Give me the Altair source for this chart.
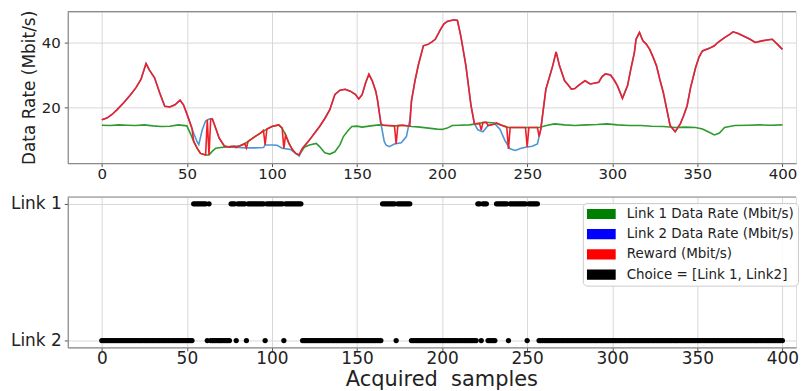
import altair as alt
import pandas as pd

# ---------------- data ----------------
# Link 1 data rate (green), (sample, Mbit/s)
link1_pts = [
    (0, 14.5), (5, 14.4), (10, 14.6), (15, 14.5), (20, 14.4), (25, 14.6), (30, 14.3), (35, 14.1),
    (40, 14.2), (45, 14.6), (50, 14.3), (52, 12.0), (54, 9.5), (56, 7.4), (58, 5.8), (61, 5.3),
    (63, 5.3), (65, 6.5), (67, 7.4), (70, 7.6), (75, 7.9), (81, 8.1), (84, 8.8), (87, 9.9),
    (90, 11.0), (93, 12.0), (97, 13.3), (100, 14.1), (104, 14.6), (106, 13.6), (108, 11.5),
    (110, 8.9), (112, 7.0), (114, 5.8), (116, 5.3), (119, 7.7), (122, 8.4), (126, 8.9), (128, 7.9),
    (131, 6.0), (134, 5.6), (137, 6.3), (140, 8.5), (142, 11.0), (145, 13.0), (147, 14.1),
    (150, 14.2), (153, 13.9), (158, 14.3), (163, 14.6), (168, 14.4), (173, 14.3), (177, 14.5),
    (182, 14.1), (187, 13.9), (192, 13.6), (197, 13.3), (200, 13.2), (203, 13.6), (206, 14.4),
    (210, 14.5), (216, 14.6), (220, 14.9), (225, 15.4), (231, 15.2), (235, 14.5), (239, 13.8),
    (245, 13.8), (250, 13.8), (257, 13.8), (262, 14.5), (266, 14.9), (272, 14.6), (278, 14.4),
    (285, 14.6), (291, 14.7), (297, 14.9), (303, 14.6), (310, 14.4), (317, 14.4), (323, 14.2),
    (330, 14.1), (337, 13.8), (343, 13.9), (349, 13.8), (353, 13.3), (357, 12.3), (360, 11.5),
    (363, 12.1), (366, 13.8), (372, 14.4), (380, 14.5), (387, 14.6), (393, 14.5), (400, 14.6),
]

# Link 2 data rate (blue)
link2_pts = [
    (0, 16.2), (3, 16.7), (6, 17.8), (9, 19.3), (13, 21.5), (17, 24.0), (20, 26.0), (23, 28.6),
    (26, 33.5), (28, 31.5), (31, 29.1), (34, 24.5), (37, 20.3), (40, 20.1), (43, 20.8), (46, 22.2),
    (48, 20.8), (50, 18.0), (52, 15.0), (54, 12.0), (56, 9.4), (57, 8.5), (59, 13.0), (61, 15.8),
    (63, 16.4), (65, 16.4), (67, 13.5), (69, 10.5), (72, 8.1), (76, 7.7), (80, 7.6), (85, 7.5),
    (90, 7.5), (95, 7.6), (96, 8.4), (100, 8.4), (103, 8.3), (106, 7.4), (111, 7.0), (113, 6.2),
    (116, 5.0), (118, 7.4), (122, 9.9), (125, 12.0), (128, 14.1), (131, 16.5), (134, 19.3),
    (137, 24.0), (140, 25.3), (143, 25.6), (146, 25.0), (149, 24.0), (151, 22.6), (153, 23.9),
    (155, 27.5), (157, 30.2), (159, 28.1), (161, 25.0), (162, 22.4), (164, 15.1), (166, 9.5),
    (167, 8.4), (169, 7.9), (172, 8.7), (176, 9.1), (179, 11.0), (181, 16.0), (182, 22.0),
    (184, 28.0), (186, 33.0), (189, 39.0), (192, 39.5), (194, 40.2), (196, 41.0), (199, 44.0),
    (201, 45.7), (203, 46.5), (207, 47.0), (209, 46.8), (211, 42.0), (214, 32.8), (217, 20.5),
    (219, 14.9), (221, 13.1), (224, 12.5), (227, 14.4), (231, 14.9), (234, 13.3), (237, 9.7),
    (240, 7.2), (243, 6.7), (246, 7.3), (249, 7.7), (253, 8.0), (256, 8.7), (258, 13.3),
    (261, 25.6), (265, 32.8), (267, 37.1), (269, 32.8), (272, 28.2), (274, 27.0), (276, 25.6),
    (278, 25.8), (280, 26.7), (282, 27.5), (284, 28.2), (287, 27.2), (290, 27.5), (292, 27.7),
    (294, 29.5), (296, 30.3), (299, 30.0), (301, 28.5), (303, 26.7), (306, 22.8), (309, 26.7),
    (311, 32.0), (313, 36.9), (314, 41.0), (316, 43.1), (318, 40.5), (320, 39.5), (322, 37.9),
    (324, 35.5), (326, 32.8), (328, 28.5), (330, 24.6), (332, 19.5), (334, 14.4), (337, 12.5),
    (340, 14.9), (342, 17.5), (344, 20.5), (346, 26.0), (349, 32.3), (351, 35.5), (353, 37.4),
    (357, 38.2), (360, 39.0), (362, 40.0), (366, 41.5), (369, 42.5), (371, 43.3), (374, 42.8),
    (378, 41.8), (381, 41.0), (384, 40.0), (388, 40.5), (391, 40.8), (394, 41.0), (397, 39.5),
    (400, 37.9),
]

# Reward (red)
reward_pts = [
    (0, 16.2), (3, 16.7), (6, 17.8), (9, 19.3), (13, 21.5), (17, 24.0), (20, 26.0), (23, 28.6),
    (26, 33.5), (28, 31.5), (31, 29.1), (34, 24.5), (37, 20.3), (40, 20.1), (43, 20.8), (46, 22.2),
    (48, 20.8), (50, 18.0), (52, 15.0), (53, 13.5), (54, 9.5), (56, 7.4), (58, 5.8), (61, 5.3),
    (62, 16.2), (63, 5.3), (64, 16.4), (65, 16.4), (67, 13.5), (69, 10.5), (72, 8.1), (75, 7.7),
    (76, 7.9), (78, 8.0), (79, 7.6), (80, 8.0), (81, 8.1), (84, 8.8), (85, 7.5), (86, 9.5),
    (90, 11.0), (93, 12.0), (95, 12.9), (96, 8.4), (97, 13.3), (100, 14.1), (104, 14.6),
    (106, 13.6), (107, 7.3), (108, 11.5), (110, 8.9), (112, 7.0), (114, 5.8), (116, 5.3),
    (117, 6.5), (118, 7.4), (122, 9.9), (125, 12.0), (128, 14.1), (131, 16.5), (134, 19.3),
    (137, 24.0), (140, 25.3), (143, 25.6), (146, 25.0), (149, 24.0), (151, 22.6), (153, 23.9),
    (155, 27.5), (157, 30.2), (159, 28.1), (161, 25.0), (162, 22.4), (164, 15.1), (165, 14.5),
    (168, 14.4), (172, 14.3), (173, 8.7), (174, 14.4), (177, 14.5), (181, 14.2), (182, 22.0),
    (184, 28.0), (186, 33.0), (189, 39.0), (192, 39.5), (194, 40.2), (196, 41.0), (199, 44.0),
    (201, 45.7), (203, 46.5), (207, 47.0), (209, 46.8), (211, 42.0), (214, 32.8), (217, 20.5),
    (219, 14.9), (221, 15.0), (222, 15.0), (223, 13.0), (224, 15.3), (226, 15.4), (227, 14.4),
    (231, 14.9), (232, 15.2), (235, 14.5), (238, 13.9), (239, 7.2), (240, 13.8), (245, 13.8),
    (249, 13.8), (250, 7.8), (251, 13.8), (256, 13.8), (257, 11.0), (258, 13.3), (261, 25.6),
    (265, 32.8), (267, 37.1), (269, 32.8), (272, 28.2), (274, 27.0), (276, 25.6), (278, 25.8),
    (280, 26.7), (282, 27.5), (284, 28.2), (287, 27.2), (290, 27.5), (292, 27.7), (294, 29.5),
    (296, 30.3), (299, 30.0), (301, 28.5), (303, 26.7), (306, 22.8), (309, 26.7), (311, 32.0),
    (313, 36.9), (314, 41.0), (316, 43.1), (318, 40.5), (320, 39.5), (322, 37.9), (324, 35.5),
    (326, 32.8), (328, 28.5), (330, 24.6), (332, 19.5), (334, 14.4), (337, 12.5), (340, 14.9),
    (342, 17.5), (344, 20.5), (346, 26.0), (349, 32.3), (351, 35.5), (353, 37.4), (357, 38.2),
    (360, 39.0), (362, 40.0), (366, 41.5), (369, 42.5), (371, 43.3), (374, 42.8), (378, 41.8),
    (381, 41.0), (384, 40.0), (388, 40.5), (391, 40.8), (394, 41.0), (397, 39.5), (400, 37.9),
]

# Samples where Link 1 was chosen (inclusive runs); every other sample chose Link 2
link1_runs = [(54, 61), (63, 63), (76, 78), (80, 84), (86, 95), (97, 106), (108, 117),
              (165, 172), (174, 181), (221, 222), (224, 226), (232, 238), (240, 249), (251, 256)]
first_sample, last_sample = 0, 400

series_names = ["Link 1 Data Rate (Mbit/s)", "Link 2 Data Rate (Mbit/s)",
                "Reward (Mbit/s)", "Choice = [Link 1, Link2]"]
line_colors = ["#2f9a2f", "#4f95d3", "#f01e28"]
legend_colors = ["#008000", "#0000ff", "#ff0000", "#000000"]
choice_labels = ["Link 2", "Link 1"]
x_ticks = [0, 50, 100, 150, 200, 250, 300, 350, 400]
y_ticks = [20, 40]

# ---------------- tables ----------------
def to_df(pts):
    return pd.DataFrame({"x": [p[0] for p in pts], "y": [p[1] for p in pts]})

choice_rows = []
for s in range(first_sample, last_sample + 1):
    is_l1 = any(a <= s <= b for a, b in link1_runs)
    choice_rows.append({"x": s, "link": 1 if is_l1 else 0, "series": series_names[3]})
choice_df = pd.DataFrame(choice_rows)

# ---------------- styling ----------------
FONT = "DejaVu Sans"
W, H1, H2 = 731, 152, 151
FRAME = "#8a8a8a"
GRID = "#d8d8d8"
TXT = "#222222"
TICK = "#555555"
xscale = alt.Scale(domain=[-20, 408], nice=False, zero=False)

top_x_axis = alt.Axis(values=x_ticks, title=None, labelFontSize=15, labelFont=FONT,
                      labelColor=TXT, tickSize=3.5, tickColor=TICK, labelPadding=0,
                      grid=True, gridColor=GRID, domainColor=FRAME, domainWidth=1.2)
top_y_axis = alt.Axis(values=y_ticks, title="Data Rate (Mbit/s)", titleFontSize=17,
                      titleFont=FONT, titleFontWeight="normal", titleColor=TXT, titlePadding=3,
                      labelFontSize=15, labelFont=FONT, labelColor=TXT, tickSize=3.5,
                      tickColor=TICK, labelPadding=4, grid=True, gridColor=GRID,
                      domainColor=FRAME, domainWidth=1.2)
yscale_top = alt.Scale(domain=[2.8, 49.5], nice=False, zero=False)

layers = []
for pts, col in zip([link1_pts, link2_pts, reward_pts], line_colors):
    layers.append(
        alt.Chart(to_df(pts)).mark_line(color=col, strokeWidth=1.6, clip=True).encode(
            x=alt.X("x:Q", scale=xscale, axis=top_x_axis),
            y=alt.Y("y:Q", scale=yscale_top, axis=top_y_axis),
        )
    )
top_border = alt.Chart(pd.DataFrame({"k": [0]})).mark_rule(color=FRAME, strokeWidth=1.2).encode(
    x=alt.value(0), x2=alt.value(W), y=alt.value(0))
top = alt.layer(*layers, top_border).properties(width=W, height=H1)

bottom_x_axis = alt.Axis(values=x_ticks, title="Acquired\u00a0 samples", titleFontSize=21,
                         titleFont=FONT, titleFontWeight="normal", titleColor=TXT,
                         titlePadding=2, titleX=375, labelFontSize=17, labelFont=FONT,
                         labelColor=TXT, tickSize=3.5, tickColor=TICK, labelPadding=0,
                         grid=True, gridColor=GRID, domainColor=FRAME, domainWidth=1.2)
bottom_y_axis = alt.Axis(values=[0, 1], title=None,
                         labelExpr=f"datum.value == 1 ? '{choice_labels[1]}' : '{choice_labels[0]}'",
                         labelFontSize=17, labelFont=FONT, labelColor=TXT, tickSize=3.5,
                         tickColor=TICK, labelPadding=3, grid=True, gridColor=GRID,
                         domainColor=FRAME, domainWidth=1.2)

points = alt.Chart(choice_df).mark_circle(size=28, opacity=1).encode(
    x=alt.X("x:Q", scale=xscale, axis=bottom_x_axis),
    y=alt.Y("link:Q", scale=alt.Scale(domain=[-0.05, 1.05], nice=False, zero=False),
            axis=bottom_y_axis),
    color=alt.Color("series:N", scale=alt.Scale(domain=series_names, range=legend_colors),
                    legend=alt.Legend(title=None, orient="none", legendX=517, legendY=6,
                                      symbolType="M-1,-0.35H1V0.35H-1Z", symbolSize=841,
                                      symbolStrokeWidth=0, symbolOpacity=1, clipHeight=14,
                                      rowPadding=6.3, labelFontSize=13.5, labelFont=FONT,
                                      labelColor=TXT, labelOffset=11, labelLimit=400,
                                      padding=4, fillColor="rgba(255,255,255,0.85)",
                                      strokeColor="#cccccc", cornerRadius=4)),
)
bottom_border = alt.Chart(pd.DataFrame({"k": [0]})).mark_rule(color=FRAME, strokeWidth=1.2).encode(
    x=alt.value(0), x2=alt.value(W), y=alt.value(0))
bottom = alt.layer(points, bottom_border).properties(width=W, height=H2)

chart = alt.vconcat(top, bottom, spacing=12).resolve_scale(color="independent").resolve_legend(
    color="independent").properties(
    padding={"left": 1, "top": 0, "right": 0, "bottom": 0}
).configure_view(stroke=None).configure(background="white")

chart.save("out.html", embed_options={"renderer": "svg", "actions": False})
